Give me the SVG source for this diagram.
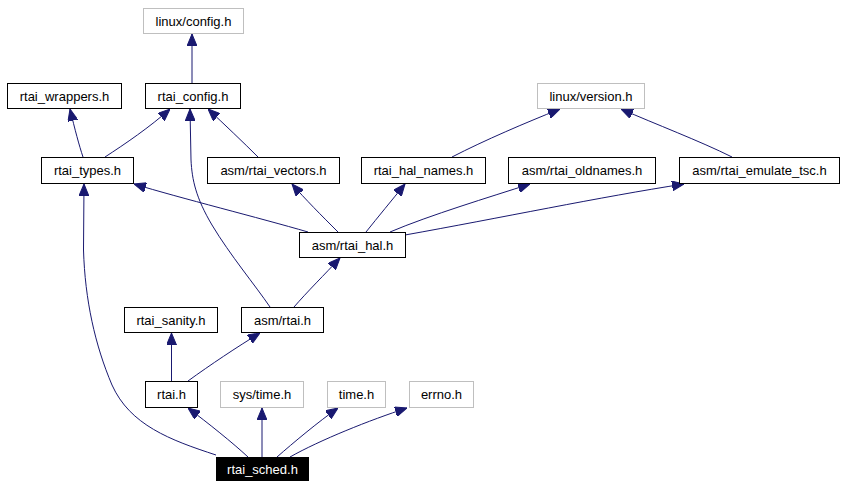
<svg xmlns="http://www.w3.org/2000/svg" width="845" height="488" viewBox="0 0 845 488">
<style>
.n rect{fill:#fff;stroke:#000;stroke-width:1}
.g rect{stroke:#bfbfbf}
text{font-family:"Liberation Sans",Arial,sans-serif;font-size:13px;text-anchor:middle;fill:#000}
text.w{fill:#fff}
.e path{fill:none;stroke:#191970;stroke-width:1;marker-end:url(#ah)}
</style>
<defs>
<marker id="ah" viewBox="0 0 12 10" refX="12" refY="5" markerWidth="12" markerHeight="10" markerUnits="userSpaceOnUse" orient="auto">
<path d="M0,0 L12,5 L0,10 z" fill="#191970" stroke="#191970" stroke-width="1"/>
</marker>
</defs>
<rect width="845" height="488" fill="#fff"/>
<g class="e">
<path d="M192,83 L192,34"/>
<path d="M83,157 C79,145 75,130 70,109"/>
<path d="M105,157 C125,144 150,127 170,109"/>
<path d="M258,157 C243,142 225,125 208,109"/>
<path d="M270,307 C255,285 230,255 212,225 C196,198 192,180 191,160 L190,109"/>
<path d="M308,232 C260,218 180,198 134,184"/>
<path d="M338,232 C322,216 305,199 292,184"/>
<path d="M366,232 C378,217 392,200 405,184"/>
<path d="M390,232 C430,215 490,197 530,184"/>
<path d="M405,235 C500,218 600,197 684,184"/>
<path d="M452,157 C485,140 525,123 560,109"/>
<path d="M732,157 C700,141 655,124 621,109"/>
<path d="M294,307 C307,292 325,274 340,258"/>
<path d="M171.5,381 L171.5,333"/>
<path d="M188,381 C210,365 237,347 260,333"/>
<path d="M216,455 C170,440 130,425 112,385 C95,345 85,300 83.5,250 L84,184"/>
<path d="M248,457 C233,443 208,423 188,408"/>
<path d="M262,457 L262,408"/>
<path d="M277,457 C293,443 318,422 338,408"/>
<path d="M290,457 C320,440 370,420 407,408"/>
</g>
<g id="linux_config" class="n g"><rect x="143.5" y="8.5" width="100" height="25"/><text x="193.5" y="25.5">linux/config.h</text></g>
<g id="rtai_wrappers" class="n"><rect x="7.5" y="83.5" width="114" height="25"/><text x="64.5" y="100.5">rtai_wrappers.h</text></g>
<g id="rtai_config" class="n"><rect x="145.5" y="83.5" width="95" height="25"/><text x="193" y="100.5">rtai_config.h</text></g>
<g id="linux_version" class="n g"><rect x="537.5" y="83.5" width="107" height="25"/><text x="591" y="100.5">linux/version.h</text></g>
<g id="rtai_types" class="n"><rect x="41.5" y="157.5" width="92" height="26"/><text x="87.5" y="175">rtai_types.h</text></g>
<g id="asm_rtai_vectors" class="n"><rect x="207.5" y="157.5" width="132" height="26"/><text x="273.5" y="175">asm/rtai_vectors.h</text></g>
<g id="rtai_hal_names" class="n"><rect x="361.5" y="157.5" width="124" height="26"/><text x="423.5" y="175">rtai_hal_names.h</text></g>
<g id="asm_rtai_oldnames" class="n"><rect x="508.5" y="157.5" width="147" height="26"/><text x="582" y="175">asm/rtai_oldnames.h</text></g>
<g id="asm_rtai_emulate_tsc" class="n"><rect x="679.5" y="157.5" width="160" height="26"/><text x="759.5" y="175">asm/rtai_emulate_tsc.h</text></g>
<g id="asm_rtai_hal" class="n"><rect x="299.5" y="232.5" width="106" height="25"/><text x="352.5" y="249.5">asm/rtai_hal.h</text></g>
<g id="rtai_sanity" class="n"><rect x="124.5" y="307.5" width="93" height="25"/><text x="171" y="324.5">rtai_sanity.h</text></g>
<g id="asm_rtai" class="n"><rect x="241.5" y="307.5" width="82" height="25"/><text x="282.5" y="324.5">asm/rtai.h</text></g>
<g id="rtai" class="n"><rect x="145.5" y="381.5" width="52" height="26"/><text x="171.5" y="399">rtai.h</text></g>
<g id="sys_time" class="n g"><rect x="220.5" y="381.5" width="83" height="26"/><text x="262" y="399">sys/time.h</text></g>
<g id="time" class="n g"><rect x="327.5" y="381.5" width="58" height="26"/><text x="356.5" y="399">time.h</text></g>
<g id="errno" class="n g"><rect x="409.5" y="381.5" width="64" height="26"/><text x="441.5" y="399">errno.h</text></g>
<g id="rtai_sched"><rect x="216" y="457" width="93" height="24" fill="#000"/><text class="w" x="262.5" y="473.5">rtai_sched.h</text></g>
</svg>
